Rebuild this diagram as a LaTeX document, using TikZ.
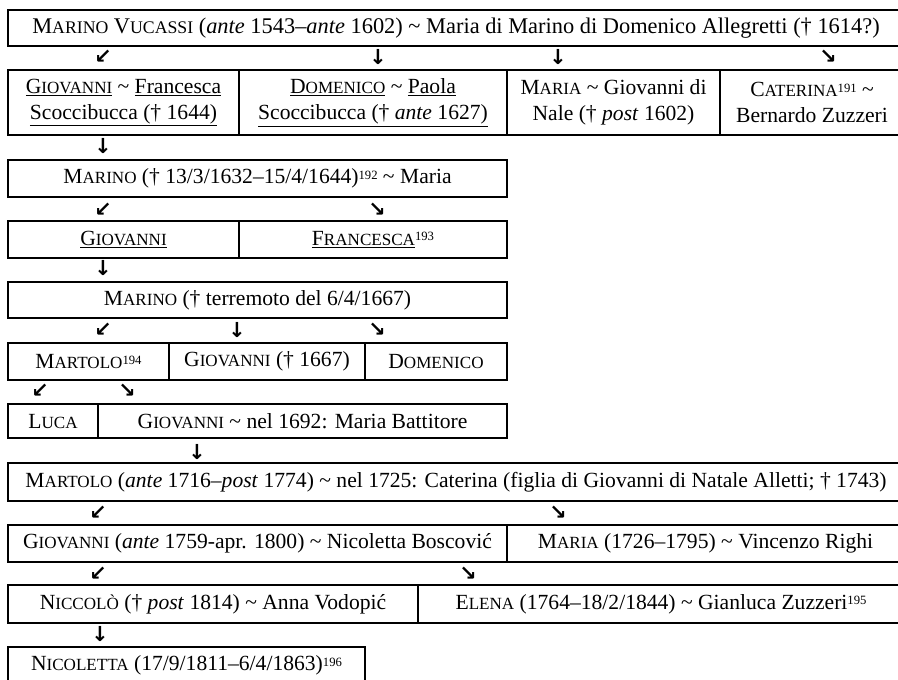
\documentclass[tikz,border=0pt]{standalone}
\usepackage{fontspec}
\setmainfont{Liberation Serif}
\newfontfamily\arrowfont{DejaVu Sans}
\newcommand\rowone{\fontsize{16.8}{21}\selectfont}
\newcommand\rowtxt{\fontsize{16.2}{19.5}\selectfont}
\newcommand\scA[2]{#1{\fontsize{12.8}{14}\selectfont #2}}
\newcommand\scB[2]{#1{\fontsize{13.3}{15}\selectfont #2}}
\newcommand\sups[1]{\raisebox{0.45ex}{\fontsize{9.5}{10}\selectfont #1}}
\newcommand\sq{\textasciitilde}
\newcommand\cellbox[6]{\node[cell, minimum width={(#4-#2)*0.75pt}, minimum height={(#5-#3)*0.75pt}] (#1) at ({(#2+#4)/2},{(#3+#5)/2}) {#6};}
\begin{document}
\begin{tikzpicture}[x=0.75pt,y=-0.75pt,
  cell/.style={draw, line width=1.3pt, inner sep=0pt, align=center, font=\rowtxt},
  arr/.style={font=\arrowfont\bfseries\fontsize{15.5}{15.5}\selectfont, inner sep=0pt}]
\clip (0,0) rectangle (898,679);
\fill[white] (0,0) rectangle (898,679);
% row 1
\cellbox{r1}{8}{10}{904}{46}{\rowone\scB{M}{ARINO} \scB{V}{UCASSI} (\textit{ante} 1543–\textit{ante} 1602) \sq{} Maria di Marino di Domenico Allegretti († 1614?)}
\node[arr] (a1a) at (103,57) {↙};
\node[arr] (a1b) at (378,57) {↓};
\node[arr] (a1c) at (558,57) {↓};
\node[arr] (a1d) at (828,57) {↘};
% row 2
\cellbox{r2a}{8}{70}{239}{135}{\underline{\scA{G}{IOVANNI}} \sq{} \underline{Francesca}\\ \underline{Scoccibucca († 1644)}}
\cellbox{r2b}{239}{70}{507}{135}{\underline{\scA{D}{OMENICO}} \sq{} \underline{Paola}\\ \underline{Scoccibucca († \textit{ante} 1627)}}
\cellbox{r2c}{507}{70}{720}{135}{\scA{M}{ARIA} \sq{} Giovanni di\\ Nale († \textit{post} 1602)}
\cellbox{r2d}{720}{70}{904}{135}{\scA{C}{ATERINA}\sups{191} \sq\\ Bernardo Zuzzeri}
\node[arr] (a2) at (103,146) {↓};
% row 3
\cellbox{r3}{8}{160}{507}{197}{\scA{M}{ARINO} († 13/3/1632–15/4/1644)\sups{192} \sq{} Maria}
\node[arr] (a3a) at (103,210) {↙};
\node[arr] (a3b) at (377,210) {↘};
% row 4
\cellbox{r4a}{8}{221}{239}{258}{\underline{\scA{G}{IOVANNI}}}
\cellbox{r4b}{239}{221}{507}{258}{\underline{\scA{F}{RANCESCA}}\sups{193}}
\node[arr] (a4) at (103,268) {↓};
% row 5
\cellbox{r5}{8}{282}{507}{318}{\scA{M}{ARINO} († terremoto del 6/4/1667)}
\node[arr] (a5a) at (103,330) {↙};
\node[arr] (a5b) at (237,330) {↓};
\node[arr] (a5c) at (377,330) {↘};
% row 6
\cellbox{r6a}{8}{343}{169}{380}{\scA{M}{ARTOLO}\sups{194}}
\cellbox{r6b}{169}{343}{365}{380}{\scA{G}{IOVANNI} († 1667)}
\cellbox{r6c}{365}{343}{507}{380}{\scA{D}{OMENICO}}
\node[arr] (a6a) at (40,391) {↙};
\node[arr] (a6b) at (127,391) {↘};
% row 7
\cellbox{r7a}{8}{404}{98}{438}{\scA{L}{UCA}}
\cellbox{r7b}{98}{404}{507}{438}{\scA{G}{IOVANNI} \sq{} nel 1692: Maria Battitore}
\node[arr] (a7) at (197,452) {↓};
% row 8
\cellbox{r8}{8}{463}{904}{501}{\scA{M}{ARTOLO} (\textit{ante} 1716–\textit{post} 1774) \sq{} nel 1725: Caterina (figlia di Giovanni di Natale Alletti; † 1743)}
\node[arr] (a8a) at (98,513) {↙};
\node[arr] (a8b) at (558,513) {↘};
% row 9
\cellbox{r9a}{8}{525}{507}{562}{\scA{G}{IOVANNI} (\textit{ante} 1759-apr. 1800) \sq{} Nicoletta Boscović}
\cellbox{r9b}{507}{525}{904}{562}{\scA{M}{ARIA} (1726–1795) \sq{} Vincenzo Righi}
\node[arr] (a9a) at (98,574) {↙};
\node[arr] (a9b) at (468,574) {↘};
% row 10
\cellbox{r10a}{8}{585}{418}{623}{\scA{N}{ICCOLÒ} († \textit{post} 1814) \sq{} Anna Vodopić}
\cellbox{r10b}{418}{585}{904}{623}{\scA{E}{LENA} (1764–18/2/1844) \sq{} Gianluca Zuzzeri\sups{195}}
\node[arr] (a10) at (100,634) {↓};
% row 11
\cellbox{r11}{8}{647}{365}{684}{\scA{N}{ICOLETTA} (17/9/1811–6/4/1863)\sups{196}}
\end{tikzpicture}
\end{document}
